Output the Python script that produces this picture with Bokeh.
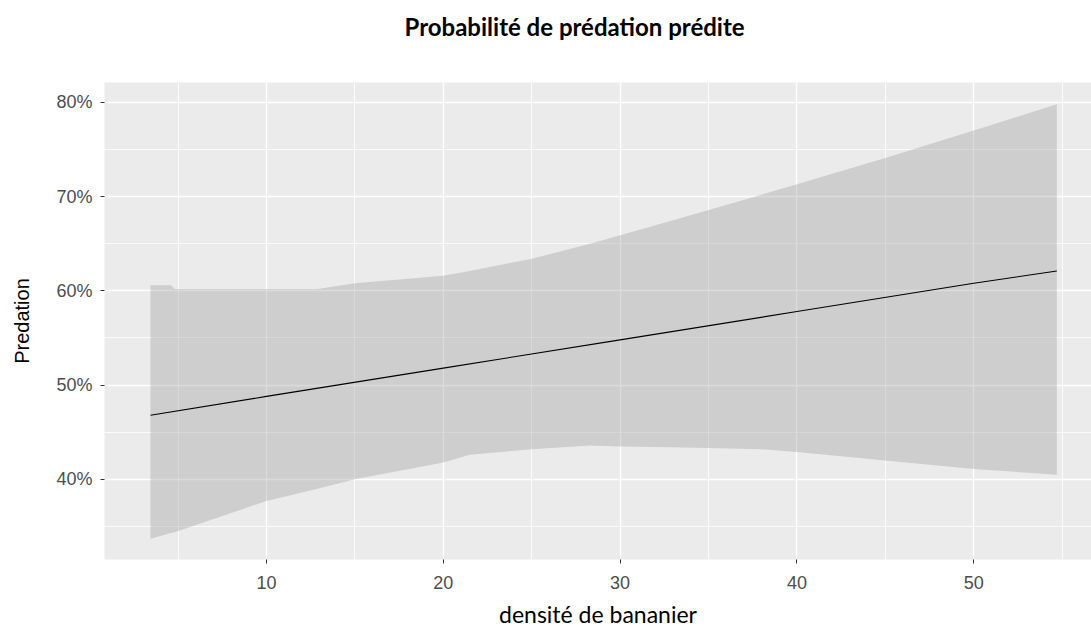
from bokeh.plotting import figure
from bokeh.models import FixedTicker, NumeralTickFormatter, Range1d, Title
from bokeh.embed import file_html
from bokeh.resources import INLINE

# Predicted predation probability along banana-plant density
fit_x = [3.44, 10, 20, 30, 40, 50, 54.7]
fit_y = [0.468, 0.488, 0.518, 0.548, 0.578, 0.608, 0.621]

# Confidence band of the prediction (percent)
band_x = [3.44, 4.6, 4.8, 10, 12.9, 15, 20, 21.5, 25, 28.3, 30, 33, 38, 40, 45, 50, 54.7]
band_upper = [60.6, 60.6, 60.2, 60.2, 60.2, 60.8, 61.6, 62.1, 63.4, 65.0, 65.9, 67.5, 70.2, 71.3, 74.1, 77.0, 79.8]
band_lower = [33.7, 34.3, 34.4, 37.7, 39.0, 40.0, 41.8, 42.6, 43.2, 43.6, 43.5, 43.4, 43.2, 42.9, 42.0, 41.1, 40.5]

x_ticks = [10, 20, 30, 40, 50]
x_minor = [5, 15, 25, 35, 45, 55]
y_ticks = [0.4, 0.5, 0.6, 0.7, 0.8]
y_minor = [0.35, 0.45, 0.55, 0.65, 0.75]

title_text = "Probabilité de prédation prédite"
x_title = "densité de bananier"
y_title = "Predation"

p = figure(
    width=1091, height=643,
    output_backend="svg", toolbar_location=None,
    x_range=Range1d(0.84, 56.66), y_range=Range1d(0.315, 0.821),
    min_border_left=104, min_border_right=0,
    min_border_top=82, min_border_bottom=84,
    title=None,
)
p.background_fill_color = "#EBEBEB"
p.border_fill_color = "white"
p.outline_line_color = None

# Blank band between the panel and the title, then the title itself
p.add_layout(Title(text=" ", text_font_size="2px", standoff=36), "above")
p.add_layout(Title(
    text=title_text, align="left", offset=300, vertical_align="top", standoff=0,
    text_font="Lato", text_font_style="bold", text_font_size="24px", text_color="#000000",
), "above")

p.varea(x=band_x, y1=[v / 100 for v in band_lower], y2=[v / 100 for v in band_upper],
        fill_color="#999999", fill_alpha=0.35)
p.line(fit_x, fit_y, line_color="black", line_width=1.1)

p.xaxis.ticker = FixedTicker(ticks=x_ticks, minor_ticks=x_minor)
p.yaxis.ticker = FixedTicker(ticks=y_ticks, minor_ticks=y_minor)
p.yaxis.formatter = NumeralTickFormatter(format="0%")

for ax in (p.xaxis[0], p.yaxis[0]):
    ax.axis_line_color = None
    ax.major_tick_line_color = "#333333"
    ax.major_tick_out = 4
    ax.major_tick_in = 0
    ax.minor_tick_line_color = None
    ax.major_label_text_font = "Liberation Sans"
    ax.major_label_text_font_size = "18px"
    ax.major_label_text_color = "#4D4D4D"

p.xaxis.major_label_standoff = 12
p.yaxis.major_label_standoff = 8

p.xaxis.axis_label = x_title
p.xaxis.axis_label_text_font = "Lato"
p.xaxis.axis_label_text_font_style = "normal"
p.xaxis.axis_label_text_font_size = "23px"
p.xaxis.axis_label_text_color = "#000000"
p.xaxis.axis_label_standoff = 8

p.yaxis.axis_label = y_title
p.yaxis.axis_label_text_font = "Liberation Sans"
p.yaxis.axis_label_text_font_style = "normal"
p.yaxis.axis_label_text_font_size = "20px"
p.yaxis.axis_label_text_color = "#000000"
p.yaxis.axis_label_standoff = 20

for g in (p.xgrid[0], p.ygrid[0]):
    g.grid_line_color = "white"
    g.grid_line_width = 1.4
    g.minor_grid_line_color = "white"
    g.minor_grid_line_width = 0.8

open("out.html", "w").write(file_html(p, INLINE))
